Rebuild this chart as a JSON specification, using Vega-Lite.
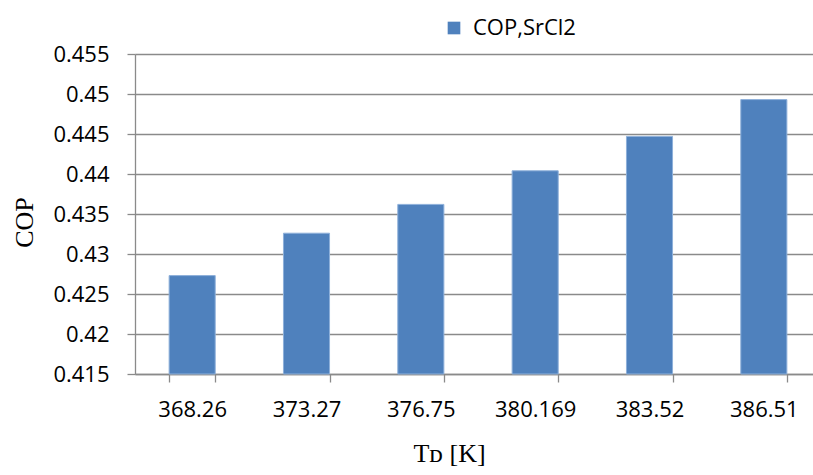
{
  "$schema": "https://vega.github.io/schema/vega-lite/v6.json",
  "width": 678,
  "height": 320,
  "autosize": {"type": "none"},
  "padding": {"left": 135, "top": 54, "right": 0, "bottom": 101},
  "background": "white",
  "data": {
    "values": [
      {"T": "368.26", "COP": 0.4273, "series": "COP,SrCl2"},
      {"T": "373.27", "COP": 0.4326, "series": "COP,SrCl2"},
      {"T": "376.75", "COP": 0.4362, "series": "COP,SrCl2"},
      {"T": "380.169", "COP": 0.4404, "series": "COP,SrCl2"},
      {"T": "383.52", "COP": 0.4447, "series": "COP,SrCl2"},
      {"T": "386.51", "COP": 0.4493, "series": "COP,SrCl2"}
    ]
  },
  "mark": {"type": "bar", "stroke": "#8eb0da", "strokeWidth": 1},
  "encoding": {
    "x": {
      "field": "T",
      "type": "nominal",
      "sort": null,
      "scale": {"range": [0, 686], "paddingInner": 0.597, "paddingOuter": 0.2985},
      "axis": {
        "title": "Tᴅ [K]",
        "titleFont": "Liberation Serif",
        "titleFontSize": 26,
        "titleFontWeight": "normal",
        "titleColor": "black",
        "titleX": 314,
        "titleY": 87,
        "titleBaseline": "alphabetic",
        "titleAlign": "center",
        "labelAngle": 0,
        "labelFont": "Open Sans",
        "labelFontSize": 22,
        "labelColor": "black",
        "labelPadding": 17,
        "tickBand": "extent",
        "tickSize": 8,
        "tickColor": "#8a8a8a",
        "tickWidth": 1.3,
        "domainColor": "#8a8a8a",
        "domainWidth": 1.3,
        "grid": false
      }
    },
    "y": {
      "field": "COP",
      "type": "quantitative",
      "scale": {"domain": [0.415, 0.455], "zero": false, "nice": false},
      "axis": {
        "title": "COP",
        "titleFont": "Liberation Serif",
        "titleFontSize": 26,
        "titleFontWeight": "normal",
        "titleColor": "black",
        "titleAngle": -90,
        "titleX": -111,
        "titleY": 168,
        "titleAlign": "center",
        "titleBaseline": "middle",
        "values": [0.415, 0.42, 0.425, 0.43, 0.435, 0.44, 0.445, 0.45, 0.455],
        "format": ".3~f",
        "labelFont": "Open Sans",
        "labelFontSize": 22,
        "labelColor": "black",
        "labelPadding": 18,
        "tickSize": 8,
        "tickColor": "#8a8a8a",
        "tickWidth": 1.3,
        "domainColor": "#8a8a8a",
        "domainWidth": 1.3,
        "grid": true,
        "gridColor": "#8a8a8a",
        "gridWidth": 1.3
      }
    },
    "y2": {"datum": 0.415},
    "color": {
      "field": "series",
      "type": "nominal",
      "scale": {"range": ["#4f81bd"]},
      "legend": {
        "title": null,
        "orient": "none",
        "legendX": 308,
        "legendY": -37,
        "padding": 0,
        "symbolType": "square",
        "symbolSize": 160,
        "symbolStrokeWidth": 0,
        "labelFont": "Open Sans",
        "labelFontSize": 22,
        "labelColor": "black",
        "labelOffset": 8
      }
    }
  },
  "config": {"view": {"stroke": null}}
}
